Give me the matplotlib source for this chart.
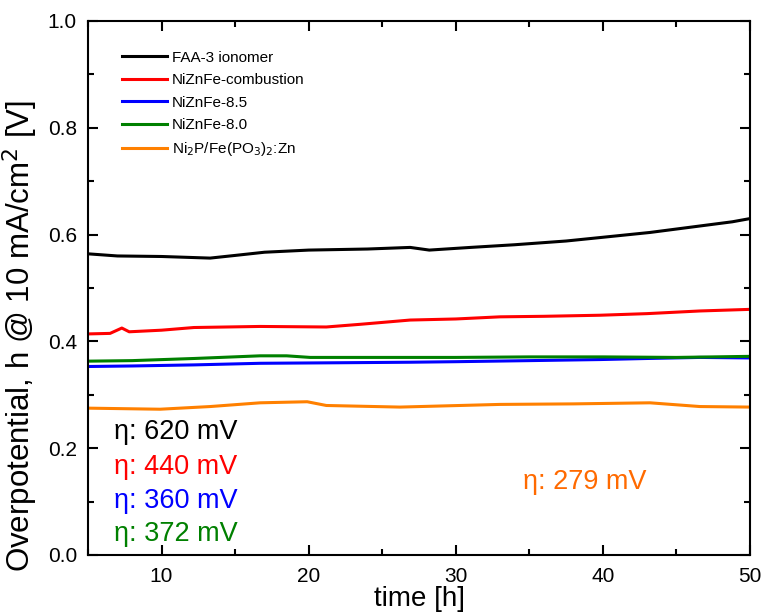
import matplotlib.pyplot as plt
from matplotlib.ticker import MultipleLocator

plt.rcParams['font.family'] = ['Liberation Sans', 'DejaVu Sans']

# stability runs: overpotential at 10 mA/cm2 vs. time
t_faa = [5, 7, 10, 13.3, 15, 17, 20, 24, 26.9, 28.2, 31, 34, 37.5, 40, 43.2, 46, 48.8, 50]
v_faa = [0.564, 0.560, 0.559, 0.556, 0.561, 0.567, 0.571, 0.573, 0.576, 0.571, 0.576, 0.581, 0.588, 0.595, 0.604, 0.614, 0.624, 0.630]

t_comb = [5, 6.5, 7.3, 7.8, 10, 12.2, 16.7, 21.2, 23.5, 26.9, 30, 33, 36, 39.8, 43, 46.6, 50]
v_comb = [0.414, 0.415, 0.425, 0.418, 0.421, 0.426, 0.428, 0.427, 0.432, 0.440, 0.442, 0.446, 0.447, 0.449, 0.452, 0.457, 0.460]

t_85 = [5, 8, 12.2, 16.7, 22, 26.9, 30, 35, 39.8, 43, 46.6, 50]
v_85 = [0.353, 0.354, 0.356, 0.359, 0.360, 0.361, 0.362, 0.364, 0.366, 0.368, 0.370, 0.369]

t_80 = [5, 8, 12.2, 16.7, 18.5, 20.1, 25, 30, 35, 40, 45, 50]
v_80 = [0.363, 0.364, 0.368, 0.373, 0.373, 0.370, 0.370, 0.370, 0.371, 0.371, 0.370, 0.372]

t_p = [5, 9.9, 13.3, 16.7, 19.9, 21.2, 26.2, 33, 38, 43.2, 46.6, 50]
v_p = [0.275, 0.273, 0.278, 0.285, 0.287, 0.280, 0.277, 0.282, 0.283, 0.285, 0.278, 0.277]

labels = ['FAA-3 ionomer', 'NiZnFe-combustion', 'NiZnFe-8.5', 'NiZnFe-8.0',
          r'Ni$_2$P/Fe(PO$_3$)$_2$:Zn']
colors = ['black', '#ff0000', '#0000ff', '#008000', '#ff8000']
eta_text = ['η: 620 mV', 'η: 440 mV', 'η: 360 mV', 'η: 372 mV', 'η: 279 mV']
eta_colors = ['black', '#ff0000', '#0000ff', '#008000', '#ff6a00']

fig = plt.figure(figsize=(7.61, 6.14), dpi=100)
ax = fig.add_axes([88 / 761, 1 - 555 / 614, 662 / 761, 534 / 614])

series = [(t_faa, v_faa), (t_comb, v_comb), (t_85, v_85), (t_80, v_80), (t_p, v_p)]
for (t, v), lab, c in zip(series, labels, colors):
    ax.plot(t, v, color=c, lw=2.2, label=lab)

ax.set_xlim(5, 50)
ax.set_ylim(0, 1.0)
ax.xaxis.set_major_locator(MultipleLocator(10))
ax.xaxis.set_minor_locator(MultipleLocator(5))
ax.yaxis.set_major_locator(MultipleLocator(0.2))
ax.yaxis.set_minor_locator(MultipleLocator(0.1))
ax.tick_params(which='both', direction='in', top=True, right=True, width=1.5, labelsize=15)
ax.tick_params(which='major', length=7)
ax.tick_params(which='minor', length=4)
ax.tick_params(axis='y', pad=8)
ax.tick_params(axis='x', pad=9)
for s in ax.spines.values():
    s.set_linewidth(1.5)

ax.set_xlabel('time [h]', fontsize=20, labelpad=0)
ax.set_ylabel(r'Overpotential, h @ 10 mA/cm$^2$ [V]', fontsize=22.5)
ax.yaxis.set_label_coords(-0.072, 0.41)

leg = ax.legend(loc='upper left', bbox_to_anchor=(0.03, 0.97), frameon=False,
                fontsize=11, handlelength=3.0, handletextpad=0.3, labelspacing=0.55)

# overpotential annotations
ys = [0.230, 0.164, 0.102, 0.040]
for txt, c, y in zip(eta_text[:4], eta_colors[:4], ys):
    ax.text(0.040, y, txt, color=c, fontsize=19.5, transform=ax.transAxes, va='center')
ax.text(0.657, 0.137, eta_text[4], color=eta_colors[4], fontsize=19.5,
        transform=ax.transAxes, va='center')

fig.savefig('out.png', dpi=100)
